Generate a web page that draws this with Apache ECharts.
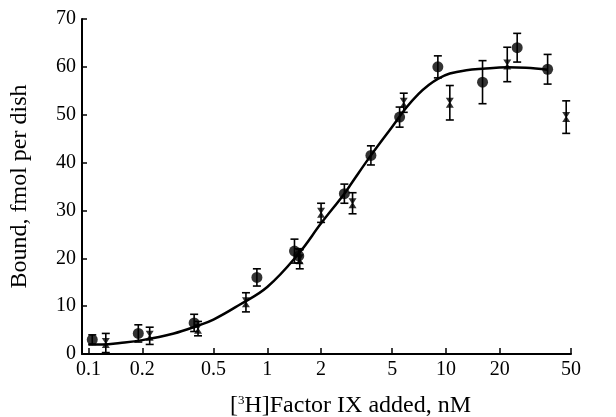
<!DOCTYPE html>
<html>
<head>
<meta charset="utf-8">
<script src="https://cdn.jsdelivr.net/npm/echarts@6/dist/echarts.min.js"></script>
<style>
  html, body { margin: 0; padding: 0; background: #fff; }
  #chart { width: 616px; height: 417px; }
</style>
</head>
<body>
<div id="chart"></div>
<script>
// filled circles
var circX = [0.105, 0.19, 0.39, 0.875, 1.42, 1.5, 2.7, 3.8, 5.5, 9, 16, 25, 37];
var circY = [3.0, 4.3, 6.5, 16.0, 21.5, 20.5, 33.5, 41.5, 49.5, 60, 56.8, 64, 59.5];
var circErr = [1.0, 1.8, 1.8, 1.8, 2.5, 1.5, 2.0, 2.0, 2.1, 2.3, 4.5, 3.0, 3.1];
// crosses
var crossX = [0.125, 0.22, 0.41, 0.76, 1.52, 2.0, 3.0, 5.8, 10.5, 22, 47];
var crossY = [2.3, 3.8, 5.3, 10.8, 19.8, 29.5, 31.5, 52.5, 52.5, 60.5, 49.5];
var crossErr = [2.0, 1.8, 1.5, 2.0, 2.0, 2.0, 2.2, 2.0, 3.6, 3.6, 3.4];
// fitted curve
var curveX = [0.1, 0.12, 0.15, 0.2, 0.3, 0.4, 0.5, 0.7, 1.0, 1.5, 2.0, 2.7, 3.0, 3.8, 5.0, 6.0, 7.0, 8.0, 9.0, 10.5, 13, 16, 22, 28, 37];
var curveY = [2.0, 2.0, 2.3, 2.9, 4.3, 5.8, 7.2, 10.3, 14.0, 21.0, 27.3, 33.5, 36.0, 41.5, 47.5, 51.5, 54.3, 56.2, 57.5, 58.6, 59.3, 59.6, 59.9, 59.8, 59.4];
// x tick labels (nM)
var xTicks = [0.1, 0.2, 0.5, 1, 2, 5, 10, 20, 50];

function lg(v) { return Math.log10(v); }

function $each(arr, fn) {
  for (var i = 0; i < arr.length; i++) fn(i);
}

var chart = echarts.init(document.getElementById('chart'));

var circData = [], crossData = [], circBars = [], crossBars = [], curveData = [];
$each(circX, function (i) {
  circData.push([lg(circX[i]), circY[i]]);
  circBars.push([lg(circX[i]), circY[i], circErr[i]]);
});
$each(crossX, function (i) {
  crossData.push([lg(crossX[i]), crossY[i]]);
  crossBars.push([lg(crossX[i]), crossY[i], crossErr[i]]);
});
$each(curveX, function (i) {
  curveData.push([lg(curveX[i]), curveY[i]]);
});

// vertical bar with caps
function errorBar(params, api) {
  var x = api.value(0), y = api.value(1), e = api.value(2);
  var top = api.coord([x, y + e]);
  var bot = api.coord([x, y - e]);
  var w = 4;
  var st = { stroke: '#000', lineWidth: 1.6 };
  return {
    type: 'group',
    children: [
      { type: 'line', shape: { x1: top[0], y1: top[1], x2: bot[0], y2: bot[1] }, style: st },
      { type: 'line', shape: { x1: top[0] - w, y1: top[1], x2: top[0] + w, y2: top[1] }, style: st },
      { type: 'line', shape: { x1: bot[0] - w, y1: bot[1], x2: bot[0] + w, y2: bot[1] }, style: st }
    ]
  };
}

var font = '"Liberation Serif", "Times New Roman", serif';

var option = {
  backgroundColor: '#fff',
  animation: false,
  grid: {
    left: 82,
    right: 45,
    top: 19,
    bottom: 63,
    outerBoundsMode: 'none'
  },
  xAxis: {
    type: 'value',
    min: lg(0.092),
    max: lg(50),
    name: '{b|[}{s|3}{b|H]Factor IX added, nM}',
    nameLocation: 'middle',
    nameGap: 40,
    nameTextStyle: {
      padding: [0, 0, 0, 48],
      rich: {
        b: { fontFamily: font, fontSize: 24, color: '#000' },
        s: { fontFamily: font, fontSize: 13, color: '#000', verticalAlign: 'top', padding: [0, 0, 10, 0] }
      }
    },
    splitLine: { show: false },
    axisLine: { onZero: false, lineStyle: { color: '#000', width: 2 } },
    axisTick: {
      inside: true,
      length: 6,
      lineStyle: { color: '#000', width: 1.5 },
      customValues: xTicks.map(lg)
    },
    axisLabel: {
      customValues: xTicks.map(lg),
      color: '#000',
      fontFamily: font,
      fontSize: 20,
      margin: 6,
      formatter: function (v) {
        return String(Math.round(Math.pow(10, v) * 10) / 10);
      }
    }
  },
  yAxis: {
    type: 'value',
    min: 0,
    max: 70,
    interval: 10,
    name: 'Bound, fmol per dish',
    nameLocation: 'middle',
    nameGap: 50,
    nameTextStyle: { fontFamily: font, fontSize: 24, color: '#000' },
    splitLine: { show: false },
    axisLine: { show: true, onZero: false, lineStyle: { color: '#000', width: 2 } },
    axisTick: { show: true, inside: true, length: 5, lineStyle: { color: '#000', width: 1.5 } },
    axisLabel: { color: '#000', fontFamily: font, fontSize: 20, margin: 6 }
  },
  series: [
    {
      name: 'fit',
      type: 'line',
      data: curveData,
      smooth: 0.4,
      symbol: 'none',
      lineStyle: { color: '#000', width: 2.5 },
      z: 2
    },
    {
      name: 'circleBars',
      type: 'custom',
      renderItem: errorBar,
      data: circBars,
      z: 3
    },
    {
      name: 'crossBars',
      type: 'custom',
      renderItem: errorBar,
      data: crossBars,
      z: 3
    },
    {
      name: 'circles',
      type: 'scatter',
      data: circData,
      symbol: 'circle',
      symbolSize: 11,
      itemStyle: { color: '#000' },
      z: 4
    },
    {
      name: 'crosses',
      type: 'scatter',
      data: crossData,
      symbol: 'path://M0,0 L10,0 L6,6 L10,12 L0,12 L4,6 Z',
      symbolSize: [8, 10],
      itemStyle: { color: '#000' },
      z: 4
    }
  ]
};

chart.setOption(option);
</script>
</body>
</html>
